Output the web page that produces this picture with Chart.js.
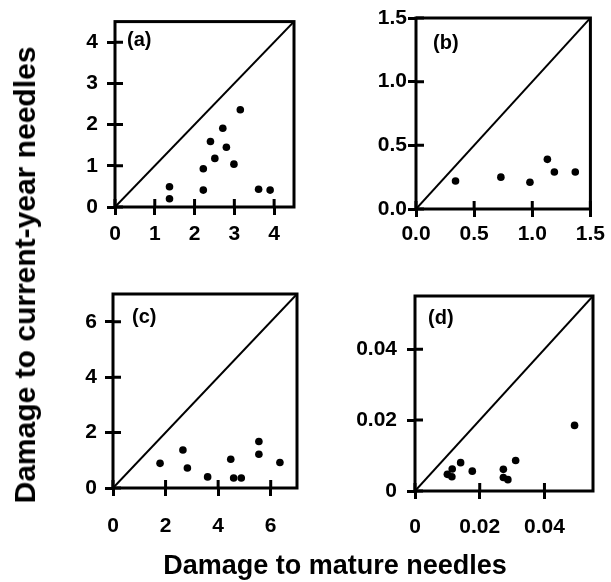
<!DOCTYPE html>
<html>
<head>
<meta charset="utf-8">
<script src="https://cdn.jsdelivr.net/npm/chart.js@4"></script>
<style>
  body { margin: 0; background: #fff; }
  #wrap { position: relative; width: 611px; height: 582px; overflow: hidden; font-family: "Liberation Sans", Arial, sans-serif; }
  canvas { position: absolute; }
  .title { position: absolute; font-weight: bold; color: #000; white-space: nowrap; }
  #xtitle { font-size: 27px; left: 335px; top: 565px; transform: translate(-50%, -50%); }
  #ytitle { font-size: 30px; left: 25px; top: 275px; transform: translate(-50%, -50%) rotate(-90deg); }
</style>
</head>
<body>
<div id="wrap">
  <canvas id="pa" width="274" height="267" style="left:40px;top:0px"></canvas>
  <canvas id="pb" width="270" height="269" style="left:340px;top:0px"></canvas>
  <canvas id="pc" width="277" height="278" style="left:40px;top:270px"></canvas>
  <canvas id="pd" width="270" height="281" style="left:340px;top:270px"></canvas>
  <div class="title" id="xtitle">Damage to mature needles</div>
  <div class="title" id="ytitle">Damage to current-year needles</div>
</div>
<script>
// panel (a)
const aX = [1.37, 1.37, 2.22, 2.22, 2.40, 2.51, 2.71, 2.80, 2.99, 3.15, 3.61, 3.90];
const aY = [0.49, 0.20, 0.93, 0.41, 1.59, 1.18, 1.91, 1.45, 1.04, 2.36, 0.43, 0.41];
const aMax = 4.5;
const aTicks = [0, 1, 2, 3, 4];
const aTickLabels = ['0', '1', '2', '3', '4'];

// panel (b)
const bX = [0.34, 0.73, 0.98, 1.13, 1.19, 1.37];
const bY = [0.22, 0.25, 0.21, 0.39, 0.29, 0.29];
const bMax = 1.5;
const bTicks = [0, 0.5, 1.0, 1.5];
const bTickLabels = ['0.0', '0.5', '1.0', '1.5'];

// panel (c)
const cX = [1.79, 2.66, 2.83, 3.60, 4.48, 4.59, 4.88, 5.55, 5.55, 6.35];
const cY = [0.89, 1.37, 0.72, 0.40, 1.04, 0.36, 0.36, 1.68, 1.22, 0.92];
const cMax = 7;
const cTicks = [0, 2, 4, 6];
const cTickLabels = ['0', '2', '4', '6'];

// panel (d)
const dX = [0.0100, 0.0114, 0.0115, 0.0141, 0.0177, 0.0273, 0.0273, 0.0287, 0.0311, 0.0493];
const dY = [0.0047, 0.0040, 0.0062, 0.0080, 0.0056, 0.0061, 0.0038, 0.0032, 0.0086, 0.0185];
const dMax = 0.055;
const dTicks = [0, 0.02, 0.04];
const dTickLabels = ['0', '0.02', '0.04'];

const panelLabels = ['(a)', '(b)', '(c)', '(d)'];

const FONT = '"Liberation Sans", Arial, sans-serif';

// 枠線と内側の目盛り、パネル記号を描く
const framePlugin = {
    id: 'frame',
    afterDraw(chart, args, opts) {
        const { ctx, chartArea: a, scales } = chart;
        ctx.save();
        ctx.strokeStyle = '#000';
        ctx.lineWidth = 3;
        ctx.strokeRect(a.left, a.top, a.right - a.left, a.bottom - a.top);
        ctx.beginPath();
        scales.x.ticks.forEach(t => {
            const px = scales.x.getPixelForValue(t.value);
            ctx.moveTo(px, a.bottom);
            ctx.lineTo(px, a.bottom - 8);
        });
        scales.y.ticks.forEach(t => {
            const py = scales.y.getPixelForValue(t.value);
            ctx.moveTo(a.left, py);
            ctx.lineTo(a.left + 8, py);
        });
        ctx.stroke();
        ctx.fillStyle = '#000';
        ctx.font = 'bold 20px ' + FONT;
        ctx.textBaseline = 'middle';
        ctx.textAlign = 'left';
        ctx.fillText(opts.label, a.left + opts.dx, a.top + opts.dy);
        ctx.restore();
    }
};

function axis(max, ticks, labels, fit, pad) {
    return {
        type: 'linear',
        min: 0,
        max: max,
        afterBuildTicks: s => { s.ticks = ticks.map(v => ({ value: v })); },
        afterFit: fit,
        border: { display: false },
        grid: {
            drawOnChartArea: false,
            drawTicks: true,
            tickLength: 8,
            tickWidth: 3,
            tickColor: '#000'
        },
        ticks: {
            color: '#000',
            padding: pad,
            maxRotation: 0,
            autoSkip: false,
            font: { family: FONT, size: 21, weight: 'bold' },
            callback: (v, i) => labels[i]
        }
    };
}

function makePanel(id, xs, ys, max, ticks, labels, cfg) {
    const pts = xs.map((x, i) => ({ x: x, y: ys[i] }));
    const ctx = document.getElementById(id).getContext('2d');
    return new Chart(ctx, {
        type: 'scatter',
        data: {
            datasets: [{
                type: 'line',
                data: [{ x: 0, y: 0 }, { x: max, y: max }],
                borderColor: '#000',
                borderWidth: 2,
                pointRadius: 0,
                fill: false
            }, {
                data: pts,
                backgroundColor: '#000',
                borderWidth: 0,
                pointRadius: 3.8
            }]
        },
        options: {
            responsive: false,
            animation: false,
            devicePixelRatio: 1,
            layout: { padding: { left: 0, top: cfg.pt, right: cfg.pr, bottom: 0 } },
            plugins: {
                legend: { display: false },
                tooltip: { enabled: false },
                frame: { label: cfg.label, dx: cfg.dx, dy: cfg.dy }
            },
            scales: {
                x: axis(max, ticks, labels, s => { s.height = cfg.hx; }, cfg.xpad),
                y: axis(max, ticks, labels, s => { s.width = cfg.wy; }, cfg.ypad)
            }
        },
        plugins: [framePlugin]
    });
}

makePanel('pa', aX, aY, aMax, aTicks, aTickLabels,
    { label: panelLabels[0], pt: 13, pr: 20, wy: 75, hx: 60, xpad: 7, ypad: 9, dx: 12, dy: 19 });
makePanel('pb', bX, bY, bMax, bTicks, bTickLabels,
    { label: panelLabels[1], pt: 18, pr: 16, wy: 76, hx: 60, xpad: 5, ypad: 1, dx: 17, dy: 25 });
makePanel('pc', cX, cY, cMax, cTicks, cTickLabels,
    { label: panelLabels[2], pt: 24, pr: 20, wy: 73, hx: 60, xpad: 18, ypad: 8, dx: 19, dy: 23 });
makePanel('pd', dX, dY, dMax, dTicks, dTickLabels,
    { label: panelLabels[3], pt: 26, pr: 17, wy: 75, hx: 60, xpad: 16, ypad: 10, dx: 13, dy: 22 });
</script>
</body>
</html>
